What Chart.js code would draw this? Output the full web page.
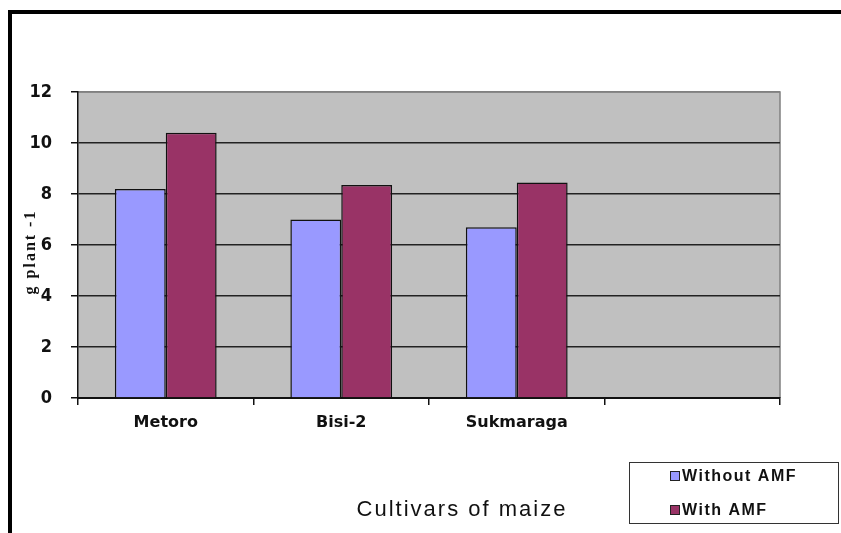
<!DOCTYPE html>
<html>
<head>
<meta charset="utf-8">
<script src="https://cdn.jsdelivr.net/npm/chart.js@4/dist/chart.umd.min.js"></script>
<style>
  html, body { margin: 0; padding: 0; background: #ffffff; }
  #wrap { width: 841px; height: 533px; position: relative; }
</style>
</head>
<body>
<div id="wrap"><canvas id="c" width="841" height="533"></canvas></div>
<script>
const categories = ["Metoro", "Bisi-2", "Sukmaraga", ""];
const withoutAMF = [8.2, 7.0, 6.7, null];
const withAMF = [10.4, 8.35, 8.45, null];
const seriesNames = ["Without AMF", "With AMF"];
const yTicks = [0, 2, 4, 6, 8, 10, 12];
const yTitle = "g plant -1";
const xTitle = "Cultivars of maize";

const colors = ["#9999FF", "#993366"];

const framePlugin = {
  id: "frame",
  beforeDraw(chart) {
    const ctx = chart.ctx;
    const a = chart.chartArea;
    ctx.save();
    ctx.fillStyle = "#ffffff";
    ctx.fillRect(0, 0, chart.width, chart.height);
    // outer black frame (top & left)
    ctx.fillStyle = "#000000";
    ctx.fillRect(8, 10, 841 - 8, 4);
    ctx.fillRect(8, 10, 4, 533 - 10);
    // plot area
    ctx.fillStyle = "#C0C0C0";
    ctx.fillRect(a.left, a.top, a.right - a.left, a.bottom - a.top);
    ctx.strokeStyle = "#808080";
    ctx.lineWidth = 1.5;
    ctx.beginPath();
    ctx.moveTo(a.left, a.top);
    ctx.lineTo(a.right, a.top);
    ctx.lineTo(a.right, a.bottom);
    ctx.stroke();
    ctx.restore();
  },
  afterDraw(chart) {
    const ctx = chart.ctx;
    const a = chart.chartArea;
    ctx.save();
    // y axis title (rotated)
    ctx.save();
    ctx.translate(31, 252);
    ctx.rotate(-Math.PI / 2);
    ctx.fillStyle = "#111111";
    ctx.font = "bold 16px 'Liberation Serif', 'DejaVu Serif', serif";
    try { ctx.letterSpacing = "2px"; } catch (e) {}
    ctx.textAlign = "center";
    ctx.textBaseline = "middle";
    ctx.fillText(yTitle, 0, 0);
    ctx.restore();
    // x axis title
    ctx.fillStyle = "#111111";
    ctx.font = "22px 'Liberation Sans', Arial, sans-serif";
    try { ctx.letterSpacing = "2px"; } catch (e) {}
    ctx.textAlign = "center";
    ctx.textBaseline = "alphabetic";
    ctx.fillText(xTitle, 462, 516);
    // legend box
    ctx.fillStyle = "#ffffff";
    ctx.fillRect(629, 462, 209, 61);
    ctx.strokeStyle = "#333333";
    ctx.lineWidth = 1;
    ctx.strokeRect(629.5, 462.5, 209, 61);
    const ys = [476, 510];
    chart.data.datasets.forEach((ds, i) => {
      ctx.fillStyle = ds.backgroundColor;
      ctx.fillRect(670, ys[i] - 5, 10, 10);
      ctx.strokeStyle = "#222";
      ctx.strokeRect(670.5, ys[i] - 4.5, 9, 9);
      ctx.fillStyle = "#111111";
      ctx.font = "bold 16px 'Liberation Sans', Arial, sans-serif";
      try { ctx.letterSpacing = "1.5px"; } catch (e) {}
      ctx.textAlign = "left";
      ctx.textBaseline = "middle";
      ctx.fillText(ds.label, 682, ys[i] + 1);
    });
    ctx.restore();
  }
};

new Chart(document.getElementById("c"), {
  type: "bar",
  data: {
    labels: categories,
    datasets: [
      { label: seriesNames[0], data: withoutAMF, backgroundColor: colors[0], borderColor: "#111111", borderWidth: 1.5 },
      { label: seriesNames[1], data: withAMF, backgroundColor: colors[1], borderColor: "#111111", borderWidth: 1.5 }
    ]
  },
  plugins: [framePlugin],
  options: {
    responsive: false,
    animation: false,
    devicePixelRatio: 1,
    layout: { padding: { left: 20, right: 61, top: 92, bottom: 0 } },
    plugins: {
      legend: { display: false },
      tooltip: { enabled: false },
      title: { display: false }
    },
    datasets: { bar: { categoryPercentage: 0.58, barPercentage: 1.0 } },
    scales: {
      x: {
        afterFit(scale) { scale.height = 135; },
        grid: {
          offset: true,
          drawOnChartArea: false,
          drawTicks: true,
          tickLength: 7,
          color: "#111111",
          lineWidth: 1.5
        },
        border: { display: true, color: "#111111", width: 2 },
        ticks: {
          padding: 8,
          color: "#111111",
          font: { family: "'DejaVu Sans', Arial, sans-serif", size: 16, weight: "bold" }
        }
      },
      y: {
        min: 0,
        max: 12,
        afterFit(scale) { scale.width = 58; },
        afterBuildTicks(scale) { scale.ticks = yTicks.map(v => ({ value: v })); },
        grid: {
          color: (c) => (c.tick && c.tick.value === 12 ? "#808080" : "#222222"),
          lineWidth: 1.5,
          tickLength: 7,
          tickColor: "#111111"
        },
        border: { display: true, color: "#111111", width: 1.5 },
        ticks: {
          padding: 19,
          color: "#111111",
          font: { family: "'Liberation Sans Narrow', 'DejaVu Sans Condensed', Arial, sans-serif", size: 18, weight: "bold" }
        },
        title: { display: false }
      }
    }
  }
});
</script>
</body>
</html>
